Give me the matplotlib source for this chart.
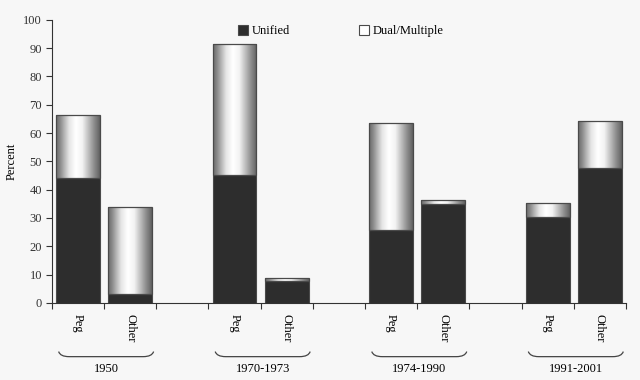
import numpy as np
import matplotlib
matplotlib.use('Agg')
from matplotlib import pylab as plt
from matplotlib.patches import Patch
from matplotlib.path import Path
from matplotlib.patches import PathPatch
import matplotlib.transforms as mtransforms

periods = ['1950', '1970-1973', '1974-1990', '1991-2001']
regimes = ['Peg', 'Other']
unified = [44.0, 3.3, 45.0, 7.6, 25.7, 35.0, 30.4, 47.5]
total = [66.2, 33.9, 91.3, 8.7, 63.5, 36.5, 35.3, 64.4]

plt.rcParams['font.family'] = ['Liberation Serif', 'DejaVu Serif']
bg = '#f7f7f7'
dark = '#2d2d2d'
edge = '#4a4a4a'
fs = 9

# bar slots: two bars per period, one empty slot between groups
xpos = []
for i in range(len(periods)):
    xpos += [3 * i, 3 * i + 1]
xpos = np.array(xpos, dtype=float)
dual = np.array(total) - np.array(unified)
width = 0.84

fig = plt.figure(figsize=(6.4, 3.8), dpi=100, facecolor=bg)
ax = fig.add_axes([0.081, 0.203, 0.897, 0.745], facecolor=bg)

ax.bar(xpos, unified, width=width, color=dark, edgecolor=edge, linewidth=0.8, zorder=2)
tops = ax.bar(xpos, dual, bottom=unified, width=width, color='none',
              edgecolor=edge, linewidth=0.9, zorder=4)

# horizontal metallic gradient for the dual/multiple segment
t = np.linspace(0, 1, 200)
shade = np.interp(t, [0, 0.08, 0.3, 0.45, 0.6, 0.85, 1.0],
                  [0.42, 0.52, 0.9, 1.0, 0.95, 0.58, 0.38])
grad = np.tile(shade, (2, 1))
for bar, x, u, d in zip(tops, xpos, unified, dual):
    im = ax.imshow(grad, cmap='gray', vmin=0, vmax=1, aspect='auto',
                   extent=[x - width / 2, x + width / 2, u, u + d],
                   interpolation='bilinear', zorder=3)
    im.set_clip_path(bar)

ax.set_xlim(-0.5, 10.5)
ax.set_ylim(0, 100)
ax.set_yticks(range(0, 101, 10))
ax.tick_params(axis='y', labelsize=fs, length=4, width=0.8, colors='#333333', pad=3)
ax.set_xticks(np.arange(-0.5, 11, 1.0))
ax.set_xticklabels([])
ax.tick_params(axis='x', length=4, width=0.8, colors='#333333')
for s in ['top', 'right']:
    ax.spines[s].set_visible(False)
for s in ['left', 'bottom']:
    ax.spines[s].set_color('#333333')
    ax.spines[s].set_linewidth(0.8)
ax.set_ylabel('Percent', fontsize=fs, labelpad=4)

trans = mtransforms.blended_transform_factory(ax.transData, ax.transAxes)
for i, x in enumerate(xpos):
    ax.text(x, -0.04, regimes[i % 2], rotation=270, ha='center', va='top',
            fontsize=fs, transform=trans)

for i, p in enumerate(periods):
    x0 = 3 * i - 0.37
    x1 = 3 * i + 1.45
    yb, yt = -0.190, -0.172
    verts = [(x0, yt), (x0 + 0.03, yb), (x0 + 0.2, yb),
             (x1 - 0.2, yb), (x1 - 0.03, yb), (x1, yt)]
    codes = [Path.MOVETO, Path.CURVE3, Path.CURVE3,
             Path.LINETO, Path.CURVE3, Path.CURVE3]
    ax.add_patch(PathPatch(Path(verts, codes), fill=False, edgecolor='#444444',
                           linewidth=0.9, transform=trans, clip_on=False))
    ax.text(3 * i + 0.54, -0.212, p, ha='center', va='top', fontsize=fs,
            transform=trans)

handles = [Patch(facecolor=dark, edgecolor=edge, linewidth=0.8, label='Unified'),
           Patch(facecolor='white', edgecolor=edge, linewidth=0.8, label='Dual/Multiple')]
fig.legend(handles=handles, loc='center', bbox_to_anchor=(0.533, 0.918), ncol=2,
           frameon=False, fontsize=fs, handlelength=0.8, handleheight=0.8,
           handletextpad=0.3, columnspacing=5.5)

fig.savefig('out.png', dpi=100, facecolor=bg)
